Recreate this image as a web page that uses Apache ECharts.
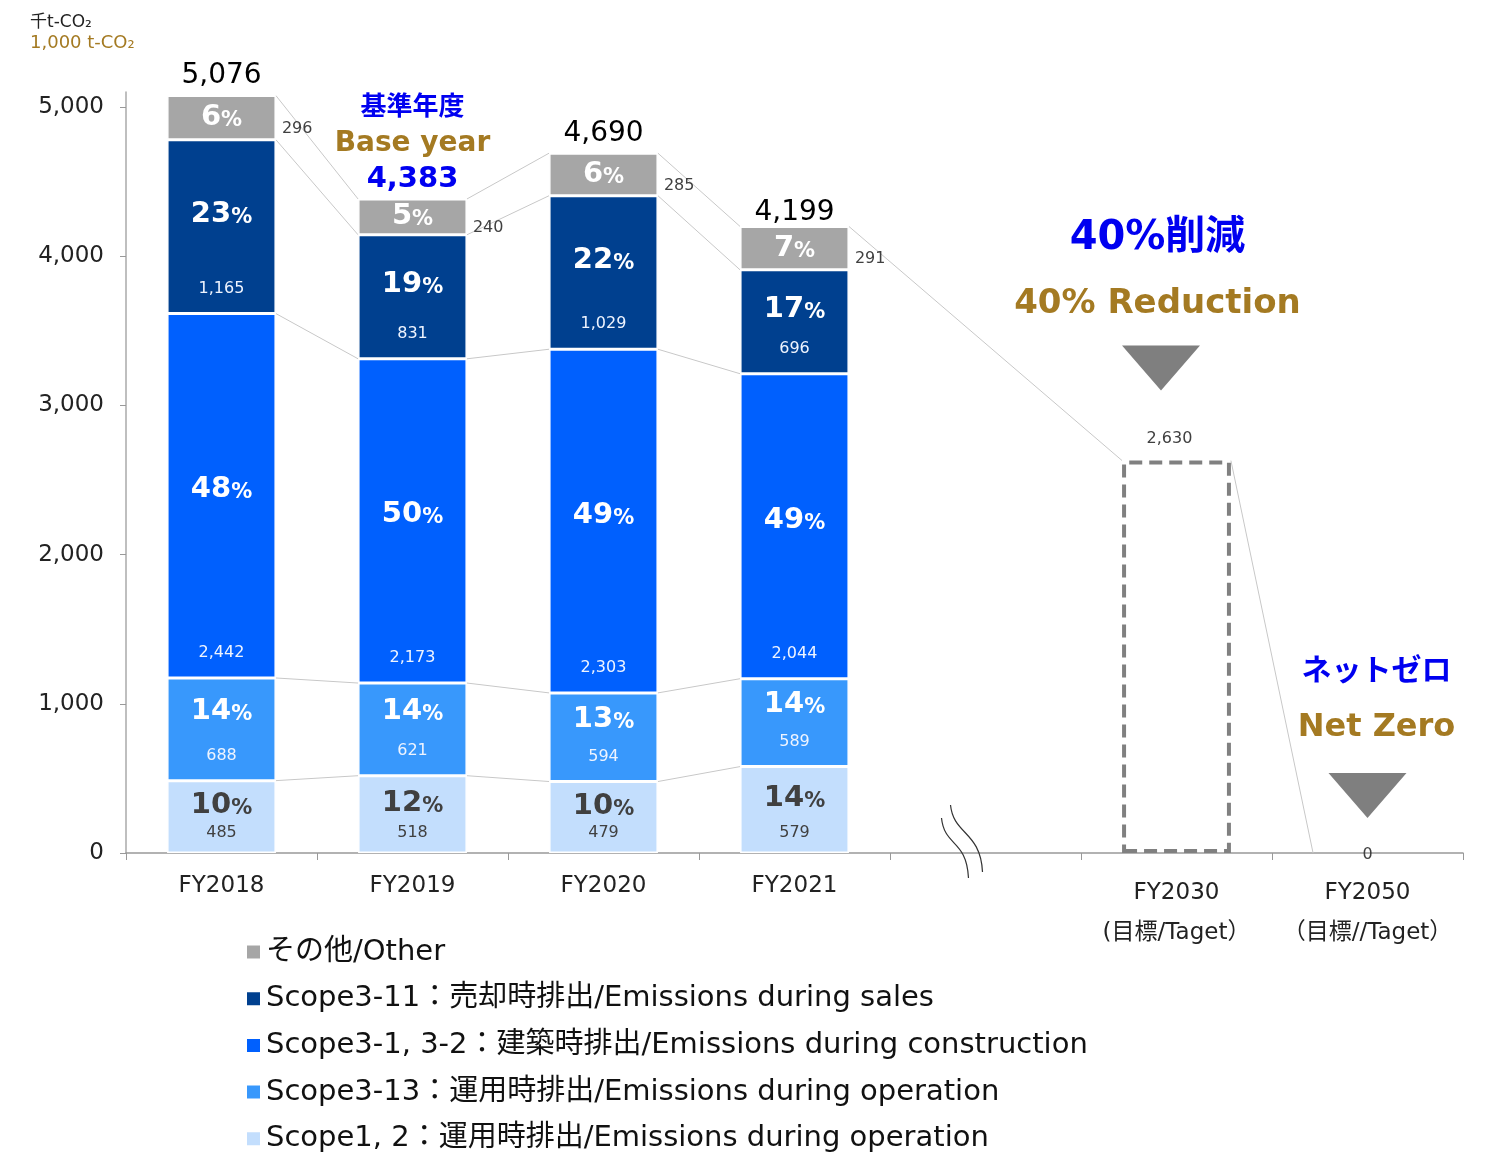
<!DOCTYPE html>
<html>
<head>
<meta charset="utf-8">
<title>CO2 emissions</title>
<script src="https://cdn.jsdelivr.net/npm/echarts@6/dist/echarts.min.js"></script>
<style>
  html, body { margin: 0; padding: 0; background: #fff; }
  #main { width: 1488px; height: 1153px; }
</style>
</head>
<body>
<div id="main"></div>
<script>
// categories (index 4 is the axis break)
const years = ['FY2018', 'FY2019', 'FY2020', 'FY2021', '', 'FY2030', 'FY2050']

// emissions, 1,000 t-CO2
const scope12 = [485, 518, 479, 579]
const scope313 = [688, 621, 594, 589]
const scope3132 = [2442, 2173, 2303, 2044]
const scope311 = [1165, 831, 1029, 696]
const other = [296, 240, 285, 291]

// shares printed in the bars
const pct12 = [10, 12, 10, 14]
const pct313 = [14, 14, 13, 14]
const pct3132 = [48, 50, 49, 49]
const pct311 = [23, 19, 22, 17]
const pctOther = [6, 5, 6, 7]

const target = ['-', '-', '-', '-', '-', 2630, 0]
const yTicks = [0, 1000, 2000, 3000, 4000, 5000]

const names = [
  'その他/Other',
  'Scope3-11：売却時排出/Emissions during sales',
  'Scope3-1, 3-2：建築時排出/Emissions during construction',
  'Scope3-13：運用時排出/Emissions during operation',
  'Scope1, 2：運用時排出/Emissions during operation'
]

const FONT = '"DejaVu Sans", "Noto Sans CJK JP", sans-serif'
const BLUE = '#0000f0'
const GOLD = '#a47a22'
const BAR = 0.57

const fmt = v => v.toLocaleString('en-US')
const pad = arr => arr.concat(['-', '-', '-'])

// stack layers from bottom to top
const layers = [
  { name: names[4], data: scope12, pct: pct12, color: '#c3defd', text: '#404040', pOff: -11, vDist: 12 },
  { name: names[3], data: scope313, pct: pct313, color: '#3898fc', text: '#fff', pOff: -18, vDist: 17 },
  { name: names[2], data: scope3132, pct: pct3132, color: '#0060fe', text: '#fff', pOff: -6, vDist: 17 },
  { name: names[1], data: scope311, pct: pct311, color: '#00408f', text: '#fff', pOff: -12, vDist: 17 },
  { name: names[0], data: other, pct: pctOther, color: '#a6a6a6', text: '#fff', pOff: 0, vDist: 0 }
]

const totals = scope12.map((v, i) => v + scope313[i] + scope3132[i] + scope311[i] + other[i])

// connector lines between stack boundaries of neighbouring bars
const links = []
for (let i = 0; i < 3; i++) {
  let a = 0, b = 0
  layers.forEach(l => {
    a += l.data[i]
    b += l.data[i + 1]
    links.push([i, a, i + 1, b])
  })
}
links.push([3, totals[3], 5, target[5]])
links.push([5, target[5], 6, target[6]])

let series = []

layers.forEach(l => {
  series.push({
    name: l.name,
    type: 'bar',
    stack: 'em',
    barWidth: BAR * 100 + '%',
    barGap: '-100%',
    data: pad(l.data),
    itemStyle: { color: l.color, borderColor: '#fff', borderWidth: 1.5 },
    label: {
      show: true,
      position: 'inside',
      offset: [0, l.pOff],
      formatter: p => '{n|' + l.pct[p.dataIndex] + '}{p|%}',
      rich: {
        n: { fontFamily: FONT, fontWeight: 'bold', fontSize: 29, color: l.text },
        p: { fontFamily: FONT, fontWeight: 'bold', fontSize: 21, color: l.text, padding: [6, 0, 0, 0] }
      }
    }
  })
})

// value labels, drawn on a transparent copy of the stack
layers.forEach((l, k) => {
  const isOther = k === 4
  series.push({
    name: 'v' + k,
    type: 'bar',
    stack: 'lbl',
    barWidth: BAR * 100 + '%',
    barGap: '-100%',
    silent: true,
    data: pad(l.data),
    itemStyle: { color: 'rgba(0,0,0,0)' },
    label: {
      show: true,
      position: isOther ? 'right' : 'insideBottom',
      distance: isOther ? 6 : l.vDist,
      offset: isOther ? [0, 11] : [0, 0],
      formatter: p => fmt(p.value),
      fontFamily: FONT,
      fontSize: 16,
      color: isOther ? '#404040' : (l.text === '#fff' ? '#eef4ff' : '#404040')
    }
  })
})

// 2030 target / 2050 net zero
series.push({
  name: 'target',
  type: 'bar',
  stack: 'tgt',
  barWidth: BAR * 100 + '%',
  barGap: '-100%',
  data: target.map((v, i) => i === 6 ? { value: v, itemStyle: { borderWidth: 0 }, label: { position: 'inside', offset: [0, 2] } } : v),
  itemStyle: { color: 'rgba(0,0,0,0)', borderColor: '#808080', borderWidth: 4, borderType: [13, 7] },
  label: {
    show: true,
    position: 'top',
    distance: 14,
    offset: [-7, 0],
    formatter: p => fmt(p.value),
    fontFamily: FONT,
    fontSize: 16,
    color: '#404040'
  }
})

// totals above bars
series.push({
  name: 'total',
  type: 'scatter',
  symbolSize: 1,
  silent: true,
  itemStyle: { color: 'rgba(0,0,0,0)', opacity: 1 },
  data: totals.map((v, i) => {
    if (i === 1) {
      return {
        value: [i, v],
        label: {
          formatter: '{a|基準年度}\n{b|Base year}\n{c|' + fmt(v) + '}'
        }
      }
    }
    return { value: [i, v], label: { offset: [0, i === 3 ? 6 : 0] } }
  }),
  label: {
    show: true,
    position: 'top',
    distance: 2,
    formatter: p => '{t|' + fmt(p.value[1]) + '}',
    rich: {
      t: { fontFamily: FONT, fontSize: 28, color: '#000', lineHeight: 34 },
      a: { fontFamily: FONT, fontWeight: 'bold', fontSize: 26, color: BLUE, lineHeight: 33 },
      b: { fontFamily: FONT, fontWeight: 'bold', fontSize: 28, color: GOLD, lineHeight: 38 },
      c: { fontFamily: FONT, fontWeight: 'bold', fontSize: 29, color: BLUE, lineHeight: 34 }
    }
  }
})

series.push({
  name: 'links',
  type: 'custom',
  silent: true,
  z: 1,
  data: links,
  encode: { x: [0, 2], y: [1, 3] },
  renderItem: (params, api) => {
    const a = api.coord([api.value(0), api.value(1)])
    const b = api.coord([api.value(2), api.value(3)])
    const half = api.size([1, 0])[0] * BAR / 2
    return {
      type: 'line',
      shape: { x1: a[0] + half, y1: a[1], x2: b[0] - half, y2: b[1] },
      style: { stroke: '#c8c8c8', lineWidth: 1 }
    }
  }
})

// axis break mark in the empty category
series.push({
  name: 'break',
  type: 'custom',
  silent: true,
  data: [[4, 0]],
  renderItem: (params, api) => {
    const c = api.coord([api.value(0), api.value(1)])
    const curve = (p) => ({
      type: 'bezierCurve',
      shape: { x1: c[0] + p[0], y1: c[1] + p[1], cpx1: c[0] + p[2], cpy1: c[1] + p[3], cpx2: c[0] + p[4], cpy2: c[1] + p[5], x2: c[0] + p[6], y2: c[1] + p[7] },
      style: { stroke: '#333', lineWidth: 1.2, fill: null }
    })
    return {
      type: 'group',
      children: [
        curve([-44, -35, -41, -6, -19, -14, -17, 25]),
        curve([-35, -48, -32, -18, -5, -22, -3, 19])
      ]
    }
  }
})

// reduction notes above 2030 / 2050
const notes = [
  { top: 'bold 40px ' + FONT, topText: '40%削減', topDy: -222, midFont: 'bold 34px ' + FONT, midText: '40% Reduction', midDy: -156, dx: -19, tri: [-15.5, -115, -70] },
  { top: 'bold 30px "Noto Sans CJK JP", sans-serif', topText: 'ネットゼロ', topDy: -184, midFont: 'bold 32px ' + FONT, midText: 'Net Zero', midDy: -125, dx: 9, tri: [0, -80, -35] }
]
series.push({
  name: 'notes',
  type: 'custom',
  silent: true,
  data: [[5, 2630], [6, 0]],
  renderItem: (params, api) => {
    const c = api.coord([api.value(0), api.value(1)])
    const n = notes[params.dataIndex]
    const tx = c[0] + n.tri[0]
    return {
      type: 'group',
      children: [
        { type: 'text', x: c[0] + n.dx, y: c[1] + n.topDy, style: { text: n.topText, font: n.top, fill: BLUE, align: 'center', verticalAlign: 'middle' } },
        { type: 'text', x: c[0] + n.dx, y: c[1] + n.midDy, style: { text: n.midText, font: n.midFont, fill: GOLD, align: 'center', verticalAlign: 'middle' } },
        { type: 'polygon', shape: { points: [[tx - 39, c[1] + n.tri[1]], [tx + 39, c[1] + n.tri[1]], [tx, c[1] + n.tri[2]]] }, style: { fill: '#7f7f7f' } }
      ]
    }
  }
})

const chart = echarts.init(document.getElementById('main'))
chart.setOption({
  animation: false,
  title: {
    left: 25,
    top: 7,
    text: '{a|千t-CO₂}\n{b|1,000 t-CO₂}',
    textStyle: {
      fontWeight: 'normal',
      rich: {
        a: { fontFamily: FONT, fontWeight: 'normal', fontSize: 17, color: '#222', lineHeight: 21 },
        b: { fontFamily: FONT, fontWeight: 'normal', fontSize: 18, color: GOLD, lineHeight: 21 }
      }
    }
  },
  legend: {
    orient: 'vertical',
    left: 240,
    top: 932,
    height: 260,
    icon: 'rect',
    itemWidth: 15,
    itemHeight: 15,
    itemGap: 16.7,
    data: names,
    textStyle: { fontFamily: FONT, fontSize: 29, color: '#111', lineHeight: 30 }
  },
  grid: { left: 126, right: 25, top: 92, bottom: 300 },
  xAxis: {
    type: 'category',
    data: years,
    axisLine: { lineStyle: { color: '#999', width: 1.5 } },
    axisTick: { show: true, interval: 0, length: 7, lineStyle: { color: '#999' } },
    axisLabel: {
      interval: 0,
      margin: 20,
      fontFamily: FONT,
      fontSize: 23,
      color: '#222',
      lineHeight: 26,
      formatter: v => {
        if (v === 'FY2030') return '{t|FY2030}\n{t|(目標/Taget）}'
        if (v === 'FY2050') return '{t|FY2050}\n{t|（目標//Taget）}'
        return v
      },
      rich: {
        t: { fontFamily: FONT, fontSize: 23, color: '#222', lineHeight: 40 }
      }
    }
  },
  yAxis: {
    type: 'value',
    min: 0,
    max: 5100,
    interval: 1000,
    splitLine: { show: false },
    axisLine: { show: true, lineStyle: { color: '#aaa', width: 1.5 } },
    axisTick: { show: true, length: 6, customValues: yTicks, lineStyle: { color: '#999' } },
    axisLabel: {
      customValues: yTicks,
      margin: 22,
      fontFamily: FONT,
      fontSize: 23,
      color: '#222',
      formatter: v => fmt(v)
    }
  },
  series: series
})
</script>
</body>
</html>
